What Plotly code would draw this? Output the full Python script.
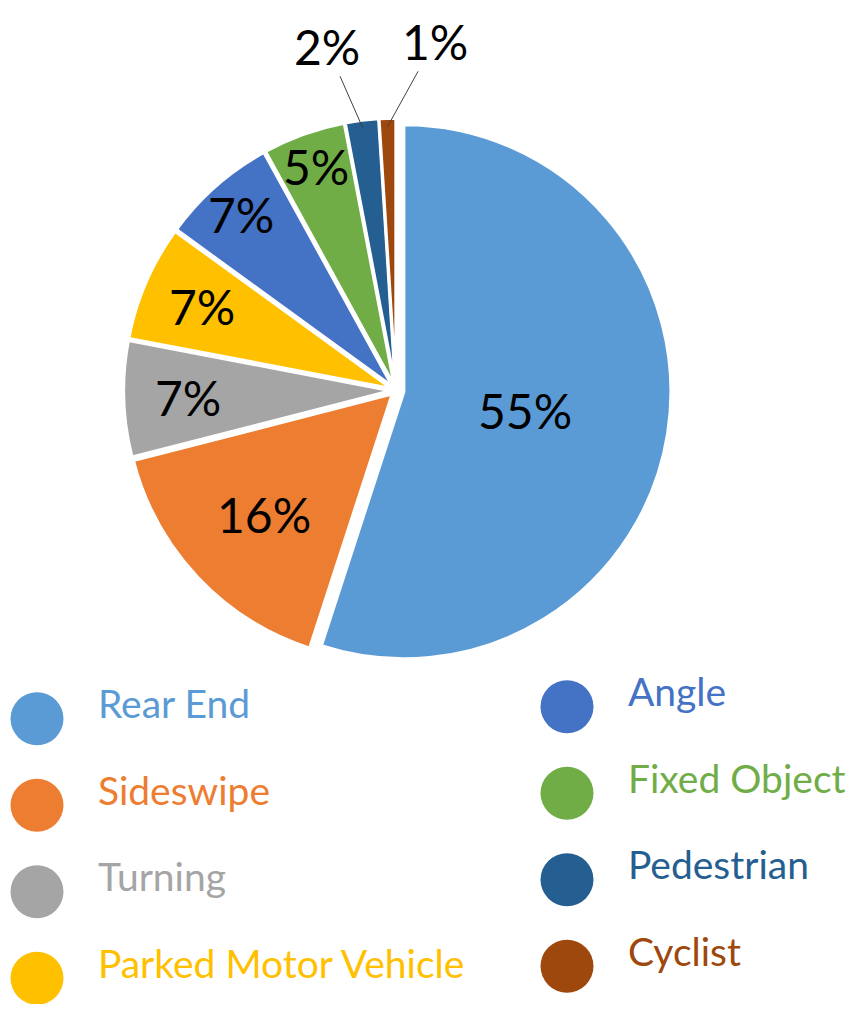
import math
import plotly.graph_objects as go

categories = ["Rear End", "Sideswipe", "Turning", "Parked Motor Vehicle",
              "Angle", "Fixed Object", "Pedestrian", "Cyclist"]
shares = [55, 16, 7, 7, 7, 5, 2, 1]
colors = ["#5B9BD5", "#ED7D31", "#A5A5A5", "#FFC000",
          "#4472C4", "#70AD47", "#255E91", "#9E480E"]

# label placement style: radial fraction for inside labels,
# pixel offset of the text for the two labels drawn outside with leader lines
label_frac = [0.49, 0.68, 0.78, 0.79, 0.88, 0.89, 0.99, 0.99]
label_offset = [None, None, None, None, None, None, (-36, -82), (47, -85)]

FONT = "Lato, sans-serif"
# the page body has an 8px margin; keep the figure inside the window
W, H = 848, 996

# layout geometry (figure pixels)
PIE_CX, PIE_CY, PIE_HALF = 388, 382.5, 275
LEG_X0, LEG_DX = 29, 530          # legend column 0 x and column spacing
LEG_Y0, LEG_DY = 710.7, 86.5      # legend row 0 y and row spacing

pulls = [0.03, 0.02, 0.02, 0.02, 0.02, 0.02, 0.02, 0.02]
dom_x = [(PIE_CX - PIE_HALF) / W, (PIE_CX + PIE_HALF) / W]
dom_y = [1 - (PIE_CY + PIE_HALF) / H, 1 - (PIE_CY - PIE_HALF) / H]

fig = go.Figure()
fig.add_trace(go.Pie(
    labels=categories,
    values=shares,
    textinfo="none",
    sort=False,
    direction="clockwise",
    rotation=0,
    pull=pulls,
    marker=dict(colors=colors, line=dict(color="white", width=3)),
    domain=dict(x=dom_x, y=dom_y),
    showlegend=False,
    hoverinfo="label+percent",
))

# percentage labels placed from the slice angles
cx = sum(dom_x) / 2
cy = sum(dom_y) / 2
r_px = PIE_HALF / (1 + max(pulls))
total = sum(shares)
cum = 0
for v, frac, off in zip(shares, label_frac, label_offset):
    mid = (cum + v / 2) / total * 2 * math.pi
    cum += v
    rr = r_px * frac
    x = cx + rr * math.sin(mid) / W
    y = cy + rr * math.cos(mid) / H
    if off is None:
        fig.add_annotation(x=x, y=y, xref="paper", yref="paper", text=f"{v}%",
                           showarrow=False, xanchor="center", yanchor="middle",
                           font=dict(family=FONT, size=48, color="black"))
    else:
        fig.add_annotation(x=x, y=y, xref="paper", yref="paper", text=f"{v}%",
                           showarrow=True, arrowhead=0, arrowwidth=1,
                           xanchor="center", yanchor="middle",
                           arrowcolor="#404040", ax=off[0], ay=off[1], standoff=0,
                           font=dict(family=FONT, size=48, color="black"))

# legend: two columns of four rows
n_rows = 4
col = [i // n_rows for i in range(len(categories))]
row = [i % n_rows for i in range(len(categories))]
row_y = [r - 0.139 * c for r, c in zip(row, col)]
text_y = [y - 0.12 for y in row_y]

fig.add_trace(go.Scatter(
    x=col, y=row_y, mode="markers",
    marker=dict(size=53, color=colors, line=dict(width=0)),
    showlegend=False, hoverinfo="skip", cliponaxis=False,
    xaxis="x", yaxis="y",
))
fig.add_trace(go.Scatter(
    x=[c + 0.115 for c in col], y=text_y, mode="text",
    text=categories, textposition="middle right",
    textfont=dict(family=FONT, size=39, color=colors),
    showlegend=False, hoverinfo="skip", cliponaxis=False,
    xaxis="x", yaxis="y",
))

fig.update_layout(
    width=W, height=H,
    margin=dict(l=0, r=0, t=0, b=0),
    paper_bgcolor="white", plot_bgcolor="rgba(0,0,0,0)",
    xaxis=dict(domain=[0, 1], range=[-LEG_X0 / LEG_DX, (W - LEG_X0) / LEG_DX],
               visible=False, fixedrange=True),
    yaxis=dict(domain=[0, 1], range=[(H - LEG_Y0) / LEG_DY, -LEG_Y0 / LEG_DY],
               visible=False, fixedrange=True),
)

fig.write_html("out.html")
